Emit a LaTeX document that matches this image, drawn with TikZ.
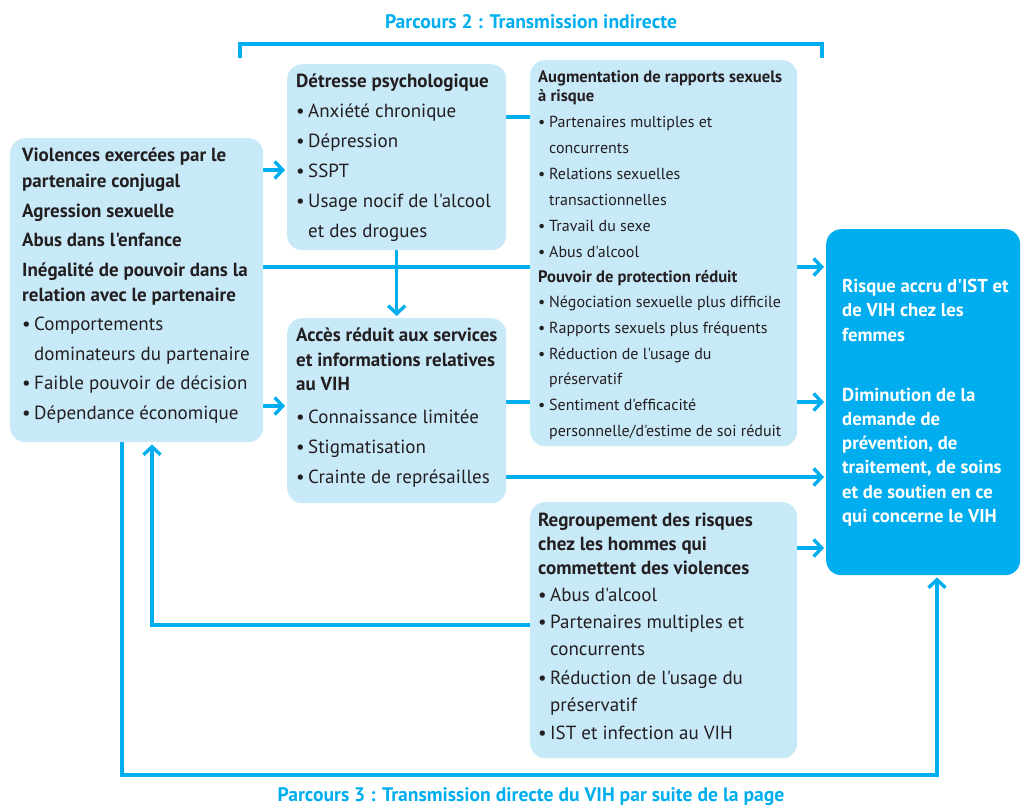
\documentclass[tikz,border=0pt]{standalone}
\usepackage{fontspec}
\setmainfont{PT Sans}[Ligatures=TeXOff]
\usetikzlibrary{arrows.meta}
\definecolor{cy}{HTML}{00AEEF}
\definecolor{lb}{HTML}{C8E9F8}
\definecolor{tx}{HTML}{231F20}
\pgfdeclarelayer{bg}
\pgfsetlayers{bg,main}
\newcommand{\bl}[1]{\makebox[12pt][l]{\textbullet}#1}
\newcommand{\ind}{\hspace*{12pt}}
\newcommand{\blb}[1]{\makebox[11pt][l]{\textbullet}#1}
\newcommand{\indb}{\hspace*{11pt}}
\newcommand{\topfix}{\rule{0pt}{20pt}}
\newcommand{\hdb}[1]{{\fontsize{16.6}{26}\selectfont\bfseries #1}}
\begin{document}
\begin{tikzpicture}[x=1pt,y=-1pt,
  box/.style={fill=lb, rounded corners=15pt, inner sep=0pt, anchor=north west, draw=none},
  outbox/.style={box, fill=cy},
  lnk/.style={draw=cy, line width=3.4pt},
  arr/.style={lnk, -{Straight Barb[length=8pt,width=17pt]}, shorten >=2pt},
  txt/.style={anchor=north west, inner sep=0pt, align=left, text=tx},
  ttl/.style={inner sep=0pt, text=cy, font=\fontsize{19.6}{22}\selectfont\bfseries}
]
\useasboundingbox (0,0) rectangle (1021,809);
% boxes
\node[box, minimum width=253pt, minimum height=304pt] (viol) at (10,138) {};
\node[box, minimum width=219pt, minimum height=186pt] (det) at (287,64) {};
\node[box, minimum width=267pt, minimum height=386pt] (aug) at (530,60) {};
\node[box, minimum width=219pt, minimum height=185pt] (acc) at (287,318) {};
\node[box, minimum width=267pt, minimum height=256pt] (reg) at (530,502) {};
\node[outbox, minimum width=194pt, minimum height=346pt] (out) at (826,229) {};
% texts
\node[txt, font=\fontsize{19}{29.5}\selectfont] (violt) at (22,141.6) {\topfix\textbf{Violences exercées par le}\\[-3.5pt]
\textbf{partenaire conjugal}\\
\textbf{Agression sexuelle}\\
\textbf{Abus dans l'enfance}\\
\textbf{Inégalité de pouvoir dans la}\\[-4.5pt]
\textbf{relation avec le partenaire}\\
\bl{Comportements}\\
\ind dominateurs du partenaire\\
\bl{Faible pouvoir de décision}\\
\bl{Dépendance économique}};
\node[txt, font=\fontsize{19}{30}\selectfont] (dett) at (296,67.6) {\topfix\textbf{Détresse psychologique}\\
\bl{Anxiété chronique}\\
\bl{Dépression}\\
\bl{SSPT}\\
\bl{Usage nocif de l'alcool}\\
\ind et des drogues};
\node[txt, font=\fontsize{19}{30}\selectfont] (acct) at (296,321.6) {\topfix\textbf{Accès réduit aux services}\\[-5pt]
\textbf{et informations relatives}\\[-6pt]
\textbf{au VIH}\\[3pt]
\bl{Connaissance limitée}\\
\bl{Stigmatisation}\\
\bl{Crainte de représailles}};
\node[txt, font=\fontsize{16}{26}\selectfont] (augt) at (538,61.8) {\topfix\hdb{Augmentation de rapports sexuels}\\[-7pt]
\hdb{à risque}\\
\blb{Partenaires multiples et}\\
\indb concurrents\\
\blb{Relations sexuelles}\\
\indb transactionnelles\\
\blb{Travail du sexe}\\
\blb{Abus d'alcool}\\[-1pt]
\hdb{Pouvoir de protection réduit}\\[-1pt]
\blb{Négociation sexuelle plus difficile}\\
\blb{Rapports sexuels plus fréquents}\\
\blb{Réduction de l'usage du}\\[-1pt]
\indb préservatif\\
\blb{Sentiment d'efficacité}\\
\indb personnelle/d'estime de soi réduit};
\node[txt, font=\fontsize{19}{27}\selectfont] (regt) at (538,506.6) {\topfix\textbf{Regroupement des risques}\\[-3pt]
\textbf{chez les hommes qui}\\[-3pt]
\textbf{commettent des violences}\\
\bl{Abus d'alcool}\\
\bl{Partenaires multiples et}\\
\ind concurrents\\[2pt]
\bl{Réduction de l'usage du}\\
\ind préservatif\\[1pt]
\bl{IST et infection au VIH}};
\node[txt, text=white, font=\fontsize{18.7}{24.2}\selectfont\bfseries] (outt) at (842,272.5) {\topfix Risque accru d'IST et\\
de VIH chez les\\
femmes\\[36pt]
Diminution de la\\
demande de\\
prévention, de\\
traitement, de soins\\
et de soutien en ce\\
qui concerne le VIH};
% titles
\node[ttl] (t2) at (531,22) {Parcours 2 : Transmission indirecte};
\node[ttl] (t3) at (531,797) {Parcours 3 : Transmission directe du VIH par suite de la page};
% bracket
\coordinate (bl) at (240,58);
\coordinate (br) at (822,58);
\coordinate (bm) at (531,44);
\coordinate (p3) at (531,775);
\begin{pgfonlayer}{bg}
\draw[lnk] (bl) |- (bm) -| (br);
\draw[arr] (viol.east |- 0,170) -- (det.west |- 0,170);
\draw[arr] (viol.east |- 0,406) -- (acc.west |- 0,406);
\draw[arr] (viol.east |- 0,267) -- (out.west |- 0,267);
\draw[lnk] (det.east |- 0,117) -- (aug.west |- 0,117);
\draw[arr] (det.south) -- (acc.north);
\draw[arr] (acc.east |- 0,402) -- (out.west |- 0,402);
\draw[arr] (acc.east |- 0,477) -- (out.west |- 0,477);
\draw[arr] (reg.east |- 0,548) -- (out.west |- 0,548);
\draw[arr] (reg.west |- 0,625) -| (viol.south -| 152,0);
\draw[arr] (viol.south -| 122,0) |- (p3) -| (out.south -| 937,0);
\end{pgfonlayer}
\end{tikzpicture}
\end{document}
